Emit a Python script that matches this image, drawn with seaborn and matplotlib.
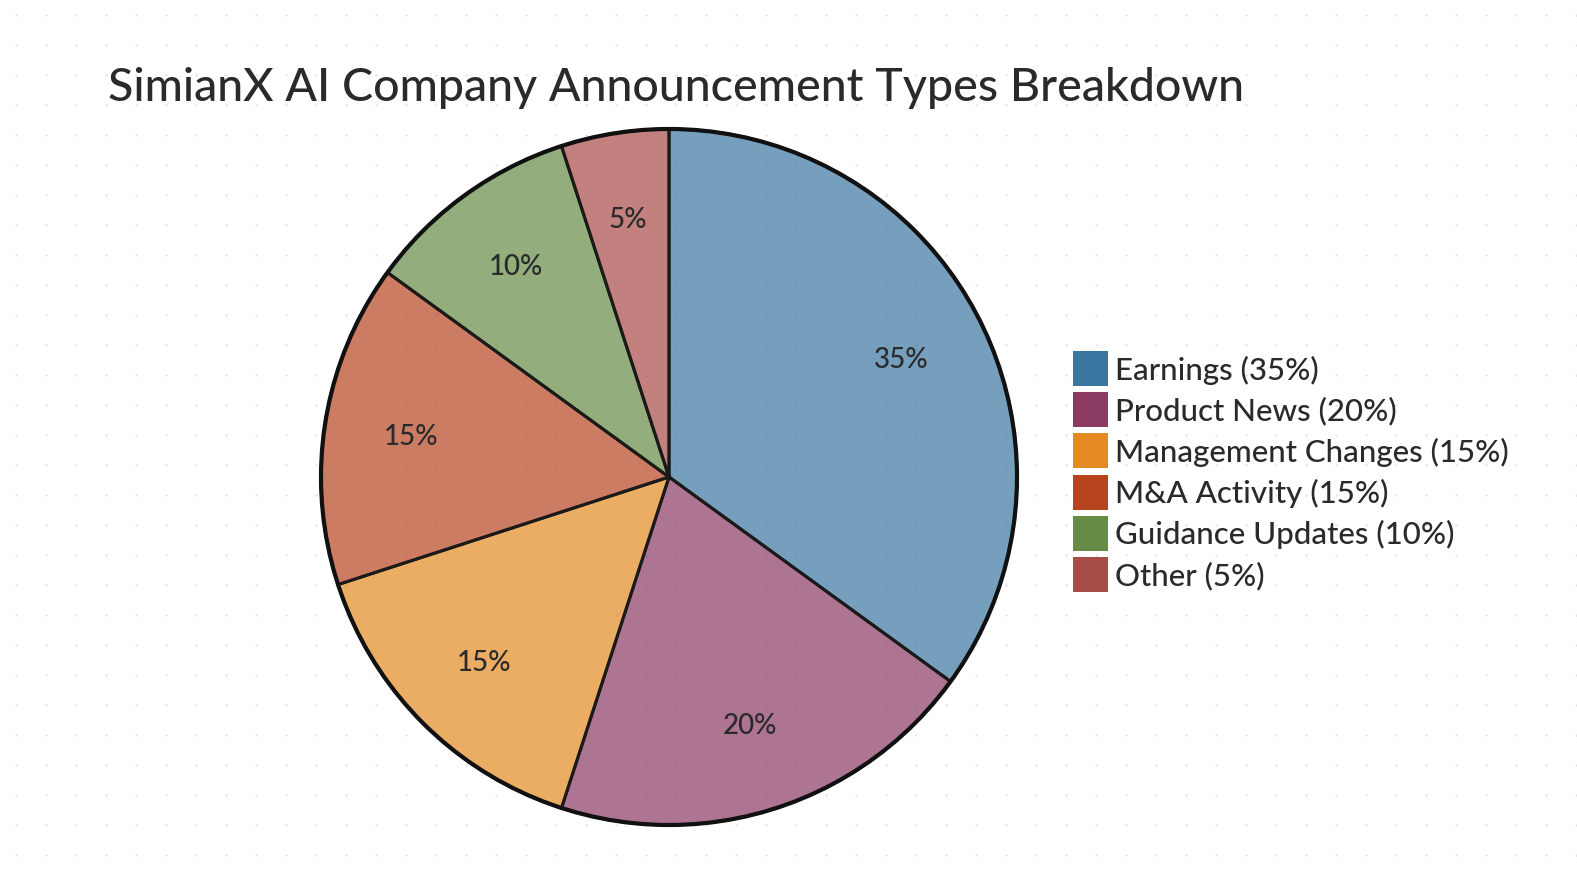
import numpy as np
import matplotlib
matplotlib.use("Agg")
import matplotlib.pyplot as plt
import seaborn as sns
from matplotlib.colors import to_rgba
from matplotlib.patches import Circle, Rectangle

sns.set_theme(style="white")
plt.rcParams['font.family'] = ['Lato', 'DejaVu Sans']
plt.rcParams['font.weight'] = 'medium'

categories = ["Earnings", "Product News", "Management Changes", "M&A Activity",
              "Guidance Updates", "Other"]
values = [35, 20, 15, 15, 10, 5]
colors = ["#3b76a0", "#8b3a62", "#e38a22", "#b5441f", "#658b45", "#a84c47"]
title = "SimianX AI Company Announcement Types Breakdown"
text_color = "#2a2a2a"

W, H = 1577, 879
fig = plt.figure(figsize=(W / 100, H / 100), dpi=100)
fig.patch.set_facecolor("white")

# background dot grid
bg = fig.add_axes([0, 0, 1, 1])
bg.set_xlim(0, W)
bg.set_ylim(H, 0)
bg.axis("off")
gx, gy = np.meshgrid(np.arange(16, W, 30), np.arange(16, H, 30))
bg.scatter(gx.ravel(), gy.ravel(), s=3, color="#e3e3e3", linewidths=0, zorder=0)

# pie axes
cx, cy, r = 669, 478, 348
pad = 1.03
side = 2 * r * pad
ax = fig.add_axes([(cx - side / 2) / W, (H - cy - side / 2) / H, side / W, side / H])
ax.patch.set_alpha(0)

face = [to_rgba(c, 0.7) for c in colors]
wedges, texts, autotexts = ax.pie(
    values, colors=face, startangle=90, counterclock=False, radius=1,
    autopct=lambda p: f"{p:.0f}%", pctdistance=0.75,
    wedgeprops=dict(edgecolor="#1a1a1a", linewidth=2.2),
    textprops=dict(fontsize=20, color=text_color, fontweight="medium"),
)
ax.add_patch(Circle((0, 0), 1, fill=False, edgecolor="#111111", linewidth=3, zorder=5))
ax.set_xlim(-pad, pad)
ax.set_ylim(-pad, pad)
ax.set_aspect("equal")
ax.axis("off")

# title
fig.text(108 / W, 1 - 88 / H, title, fontsize=33.5, color=text_color, va="center",
         ha="left", fontweight="medium")

# legend
lx, ly0, step = 1073, 352, 41.2
for i, (cat, v, c) in enumerate(zip(categories, values, colors)):
    y = ly0 + i * step
    bg.add_patch(Rectangle((lx, y), 35, 35, facecolor=c, edgecolor="none", zorder=3))
    bg.text(lx + 42, y + 18, f"{cat} ({v}%)", fontsize=22.5, color=text_color,
            va="center", ha="left", zorder=3, fontweight="medium")

fig.savefig("out.png", dpi=100, facecolor="white")
